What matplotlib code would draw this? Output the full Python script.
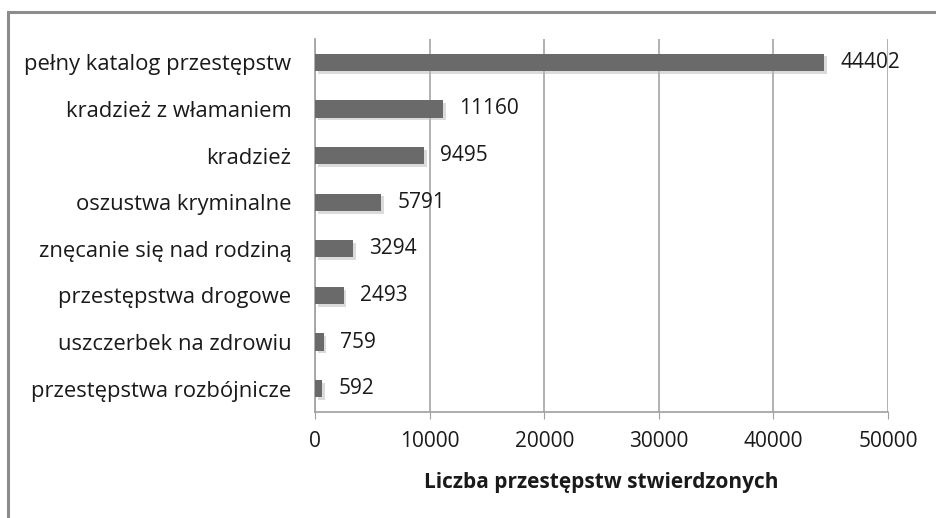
import matplotlib
matplotlib.use("Agg")
import matplotlib.pyplot as plt
import matplotlib.patheffects as pe
from matplotlib.patches import Rectangle

categories = ["pełny katalog przestępstw", "kradzież z włamaniem", "kradzież",
              "oszustwa kryminalne", "znęcanie się nad rodziną", "przestępstwa drogowe",
              "uszczerbek na zdrowiu", "przestępstwa rozbójnicze"]
values = [44402, 11160, 9495, 5791, 3294, 2493, 759, 592]
xticks = [0, 10000, 20000, 30000, 40000, 50000]
xlabel = "Liczba przestępstw stwierdzonych"

plt.rcParams['font.family'] = ['Open Sans', 'DejaVu Sans']
FS = 15
FSL = 15.8

fig = plt.figure(figsize=(9.36, 5.18), dpi=100)
ax = fig.add_axes([315 / 936, 1 - 412 / 518, (888 - 315) / 936, (412 - 39) / 518])

# outer frame
fig.patches.append(Rectangle((8 / 936, -0.1), 1.2, 1 - 12 / 518 + 0.1, transform=fig.transFigure,
                             fill=False, edgecolor='#8c8c8c', linewidth=2.2, zorder=0))

y = list(range(len(categories)))[::-1]
bars = ax.barh(y, values, height=0.37, color='#6a6a6a', zorder=3)
for b in bars:
    b.set_path_effects([pe.SimplePatchShadow(offset=(2, -2), shadow_rgbFace='#b8b8b8', alpha=0.5),
                        pe.Normal()])
for yi, v in zip(y, values):
    ax.annotate(str(v), (v, yi), xytext=(12, 0), textcoords='offset points',
                va='center', ha='left', fontsize=FS, color='#1a1a1a')

ax.set_xlim(0, 50000)
ax.set_ylim(-0.5, len(categories) - 0.5)
ax.set_xticks(xticks)
ax.set_xticklabels([str(t) for t in xticks], fontsize=FS, color='#1a1a1a')
ax.set_yticks(y)
ax.set_yticklabels(categories, fontsize=FSL, color='#1a1a1a')
ax.tick_params(axis='y', length=0, pad=17)
ax.tick_params(axis='x', length=5, color='#a0a0a0', pad=9)
ax.grid(axis='x', color='#a6a6a6', linewidth=1.2, zorder=0)
for s in ['top', 'right']:
    ax.spines[s].set_visible(False)
for s in ['left', 'bottom']:
    ax.spines[s].set_color('#a0a0a0')
    ax.spines[s].set_linewidth(1.2)
ax.set_xlabel(xlabel, fontsize=FS, fontweight='bold', color='#1a1a1a', labelpad=14)

fig.savefig("out.png", dpi=100)
